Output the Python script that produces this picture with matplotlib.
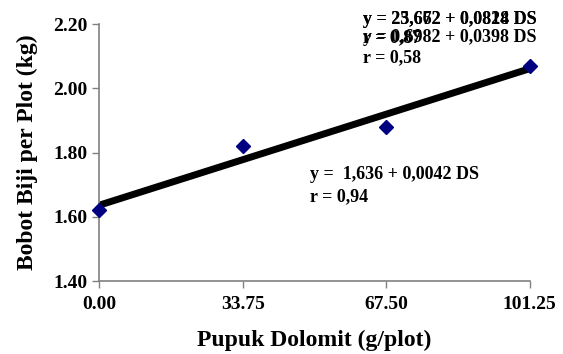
import matplotlib.pyplot as plt
import numpy as np

# dolomite dose vs seed weight per plot
dose = [0.0, 33.75, 67.5, 101.25]
weight = [1.62, 1.82, 1.88, 2.07]
fit_a = 1.636
fit_b = 0.0042
xticks = [0.0, 33.75, 67.5, 101.25]
yticks = [1.40, 1.60, 1.80, 2.00, 2.20]

plt.rcParams['font.family'] = ['Liberation Serif', 'DejaVu Serif']
plt.rcParams['font.weight'] = 'bold'

fig = plt.figure(figsize=(5.63, 3.54), dpi=100)
ax = fig.add_axes([0.176, 0.206, 0.765, 0.726])

xs = np.array([dose[0], dose[-1]])
ax.plot(xs, fit_a + fit_b * xs, color='black', lw=5, solid_capstyle='butt', zorder=2)
ax.plot(dose, weight, linestyle='none', marker='D', color='#000080', markersize=7, clip_on=False, zorder=3)

ax.set_xlim(0, 101.25)
ax.set_ylim(1.40, 2.20)
ax.set_xticks(xticks)
ax.set_xticklabels(['%.2f' % v for v in xticks])
ax.set_yticks(yticks)
ax.set_yticklabels(['%.2f' % v for v in yticks])
ax.tick_params(colors='#808080', labelcolor='black', labelsize=14, length=5, width=1)
ax.tick_params(axis='x', pad=6)

for s in ['top', 'right']:
    ax.spines[s].set_visible(False)
for s in ['left', 'bottom']:
    ax.spines[s].set_color('#808080')
    ax.spines[s].set_linewidth(1.2)

ax.set_xlabel('Pupuk Dolomit (g/plot)', fontsize=17, fontweight='bold', labelpad=12)
ax.set_ylabel('Bobot Biji per Plot (kg)', fontsize=17, fontweight='bold', labelpad=11)

# regression labels printed on top of each other, as in the original
fs = 13
fig.text(0.645, 0.946, 'y = 23,672 + 0,0828 DS', fontsize=fs, fontweight='bold', va='center')
fig.text(0.645, 0.946, 'y = 25,662 + 0,0814 DS', fontsize=fs, fontweight='bold', va='center')
fig.text(0.645, 0.893, 'r = 0,87', fontsize=fs, fontweight='bold', va='center')
fig.text(0.645, 0.893, 'y = 0,6982 + 0,0398 DS', fontsize=fs, fontweight='bold', va='center')
fig.text(0.645, 0.836, 'r = 0,58', fontsize=fs, fontweight='bold', va='center')

fig.text(0.55, 0.508, 'y =  1,636 + 0,0042 DS', fontsize=fs, fontweight='bold', va='center')
fig.text(0.55, 0.443, 'r = 0,94', fontsize=fs, fontweight='bold', va='center')

fig.savefig('out.png', dpi=100)
